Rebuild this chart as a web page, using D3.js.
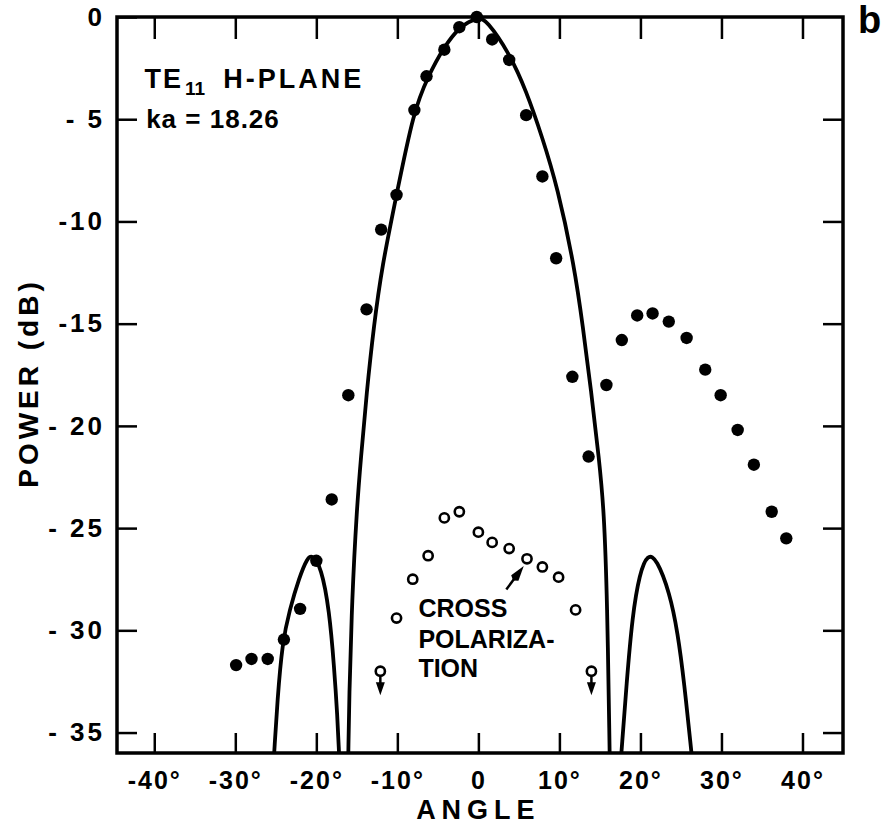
<!DOCTYPE html>
<html>
<head>
<meta charset="utf-8">
<script src="https://cdn.jsdelivr.net/npm/d3@7"></script>
<style>
  body { margin: 0; background: #fff; }
  text { font-family: "Liberation Sans", Arial, sans-serif; font-weight: bold; fill: #000; }
</style>
</head>
<body>
<svg id="chart" width="888" height="829"></svg>
<script>
// tick labels
var angleTicks = [-40, -30, -20, -10, 0, 10, 20, 30, 40];
var angleLabels = ["-40°", "-30°", "-20°", "-10°", "0", "10°", "20°", "30°", "40°"];
var powerTicks = [0, -5, -10, -15, -20, -25, -30, -35];
var powerLabels = ["0", "- 5", "-10", "-15", "- 20", "- 25", "- 30", "- 35"];

// theory (solid curves), [angle, dB]
var mainLobe = [[-16.05, -36], [-15.95, -33.4], [-15.6, -28.5], [-15.0, -24], [-14.5, -21.6],
  [-13.8, -18.4], [-12.9, -15.1], [-11.9, -12.2], [-10.1, -8.7], [-8.0, -4.6], [-6.2, -2.9],
  [-4.3, -1.5], [-2.3, -0.45], [0, 0], [1.0, -0.15], [3.8, -1.75], [5.9, -3.6], [7.9, -5.9],
  [9.75, -8.3], [11.85, -12.2], [12.9, -15.15], [13.95, -18.4], [14.9, -21.65],
  [15.5, -24.1], [15.9, -28.5], [16.2, -36]];
var leftSideLobe = [[-25.2, -36], [-24.8, -33.4], [-24.2, -30.6], [-23.3, -29.0], [-22.1, -27.4],
  [-21.1, -26.45], [-20.5, -26.3], [-19.4, -26.9], [-18.4, -29.0], [-17.8, -31.8],
  [-17.4, -34.2], [-17.2, -36]];
var rightSideLobe = [[17.65, -36], [18.3, -32.55], [19.0, -29.3], [19.9, -27.2], [20.9, -26.25],
  [22.0, -26.5], [23.6, -28.15], [24.6, -30.1], [25.4, -32.55], [26.3, -36]];

// measured co-polar (filled dots)
var coAngle = [-29.9, -28.0, -26.0, -24.0, -22.0, -20.0, -18.1, -16.05, -13.8, -12.0, -10.1,
  -7.9, -6.4, -4.2, -2.35, -0.2, 1.7, 3.8, 5.9, 7.9, 9.6, 11.6, 13.6, 15.8, 17.7, 19.6, 21.5,
  23.5, 25.7, 28.0, 29.9, 32.0, 34.0, 36.2, 38.0];
var coPower = [-31.7, -31.4, -31.4, -30.45, -28.95, -26.6, -23.6, -18.5, -14.3, -10.4, -8.7,
  -4.55, -2.9, -1.6, -0.5, 0, -1.1, -2.1, -4.8, -7.8, -11.8, -17.6, -21.5, -18.0, -15.8, -14.6,
  -14.5, -14.9, -15.7, -17.25, -18.5, -20.2, -21.9, -24.2, -25.5];

// measured cross-polar (open circles)
var xAngle = [-10.1, -8.1, -6.2, -4.2, -2.35, 0, 1.7, 3.8, 6.0, 7.9, 9.9, 12.0];
var xPower = [-29.4, -27.5, -26.35, -24.5, -24.2, -25.2, -25.7, -26.0, -26.5, -26.9, -27.4, -29.0];
// cross-polar upper bounds (circle with down arrow)
var xBoundAngle = [-12.1, 13.95];
var xBoundPower = [-32.0, -32.0];

var svg = d3.select("#chart");
var plotL = 117, plotR = 843, plotT = 17, plotB = 753;

var x = d3.scaleLinear().domain([-44.6, 45]).range([plotL, plotR]);
var y = d3.scaleLinear().domain([-36, 0]).range([plotB, plotT]);

svg.append("rect").attr("width", 888).attr("height", 829).attr("fill", "#fff");

// axes (ticks inside the frame)
var gB = svg.append("g").attr("transform", "translate(0," + plotB + ")")
  .call(d3.axisBottom(x).tickValues(angleTicks).tickSize(-20).tickPadding(13)
    .tickFormat(function(d, i) { return angleLabels[i]; }));
var gT = svg.append("g").attr("transform", "translate(0," + plotT + ")")
  .call(d3.axisTop(x).tickValues(angleTicks).tickSize(-22).tickFormat(""));
var gL = svg.append("g").attr("transform", "translate(" + plotL + ",0)")
  .call(d3.axisLeft(y).tickValues(powerTicks).tickSize(-20).tickPadding(10)
    .tickFormat(function(d, i) { return powerLabels[i]; }));
var gR = svg.append("g").attr("transform", "translate(" + plotR + ",0)")
  .call(d3.axisRight(y).tickValues(powerTicks.slice(1)).tickSize(-20).tickFormat(""));

[gB, gT, gL, gR].forEach(function(g) {
  g.select(".domain").remove();
  g.selectAll(".tick line").attr("stroke", "#000").attr("stroke-width", 2.5);
  g.selectAll(".tick text").attr("font-family", "Liberation Sans, Arial, sans-serif")
    .attr("font-weight", "bold").attr("fill", "#000");
});
gB.selectAll(".tick text").attr("font-size", 25).attr("letter-spacing", 2).attr("dy", "0.9em");
gL.selectAll(".tick text").attr("font-size", 26).attr("letter-spacing", 3).attr("dx", "-2");

// frame
svg.append("rect")
  .attr("x", plotL).attr("y", plotT)
  .attr("width", plotR - plotL).attr("height", plotB - plotT)
  .attr("fill", "none").attr("stroke", "#000").attr("stroke-width", 3.5);

// theory curves
var line = d3.line()
  .x(function(d) { return x(d[0]); })
  .y(function(d) { return y(d[1]); })
  .curve(d3.curveBasis);

[mainLobe, leftSideLobe, rightSideLobe].forEach(function(c) {
  svg.append("path").datum(c).attr("d", line)
    .attr("fill", "none").attr("stroke", "#000").attr("stroke-width", 3.8)
    .attr("stroke-linejoin", "round");
});

// co-polar dots
svg.append("g").selectAll("circle")
  .data(coAngle)
  .enter().append("circle")
  .attr("cx", function(d) { return x(d); })
  .attr("cy", function(d, i) { return y(coPower[i]); })
  .attr("r", 6.2)
  .attr("fill", "#000");

// cross-polar circles
svg.append("g").selectAll("circle")
  .data(xAngle)
  .enter().append("circle")
  .attr("cx", function(d) { return x(d); })
  .attr("cy", function(d, i) { return y(xPower[i]); })
  .attr("r", 4.6)
  .attr("fill", "#fff").attr("stroke", "#000").attr("stroke-width", 2.6);

// upper-bound circles with down arrows
xBoundAngle.forEach(function(a, i) {
  var cx = x(a), cy = y(xBoundPower[i]);
  svg.append("line")
    .attr("x1", cx).attr("y1", cy + 4).attr("x2", cx).attr("y2", cy + 12)
    .attr("stroke", "#000").attr("stroke-width", 2.5);
  svg.append("path")
    .attr("d", "M" + (cx - 4.5) + "," + (cy + 11) + "L" + (cx + 4.5) + "," + (cy + 11) +
      "L" + cx + "," + (cy + 24) + "Z")
    .attr("fill", "#000");
  svg.append("circle").attr("cx", cx).attr("cy", cy).attr("r", 4.6)
    .attr("fill", "#fff").attr("stroke", "#000").attr("stroke-width", 2.6);
});

// arrow to the cross-polarization points
var tail = [x(3.45), y(-28.0)], head = [x(5.6), y(-26.85)];
var adx = head[0] - tail[0], ady = head[1] - tail[1];
var alen = Math.sqrt(adx * adx + ady * ady), ux = adx / alen, uy = ady / alen;
var bx = head[0] - ux * 15, by = head[1] - uy * 15;
svg.append("line")
  .attr("x1", tail[0]).attr("y1", tail[1]).attr("x2", bx).attr("y2", by)
  .attr("stroke", "#000").attr("stroke-width", 2.5);
svg.append("path")
  .attr("d", "M" + head[0] + "," + head[1] +
    "L" + (bx - uy * 4.5) + "," + (by + ux * 4.5) +
    "L" + (bx - ux * 3) + "," + (by - uy * 3) +
    "L" + (bx + uy * 4.5) + "," + (by - ux * 4.5) + "Z")
  .attr("fill", "#000");

// annotations
var te = svg.append("text").attr("x", x(-41.2)).attr("y", y(-3.45)).attr("font-size", 27);
te.append("tspan").attr("letter-spacing", 2).text("TE");
te.append("tspan").attr("font-size", 19).attr("dy", 7).attr("dx", 2).text("11");
te.append("tspan").attr("dy", -7).attr("dx", 18).attr("letter-spacing", 3).text("H-PLANE");

svg.append("text").attr("x", x(-41.0)).attr("y", y(-5.45)).attr("font-size", 26)
  .attr("letter-spacing", 1).text("ka = 18.26");

var cp = [["CROSS", -29.35], ["POLARIZA-", -30.87], ["TION", -32.3]];
cp.forEach(function(d) {
  svg.append("text").attr("x", x(-7.4)).attr("y", y(d[1])).attr("font-size", 25)
    .text(d[0]);
});

// axis titles
svg.append("text").attr("x", x(0)).attr("y", 819).attr("text-anchor", "middle")
  .attr("font-size", 27).attr("letter-spacing", 6).text("ANGLE");
svg.append("text").attr("transform", "translate(38,383) rotate(-90)")
  .attr("text-anchor", "middle").attr("font-size", 28).attr("letter-spacing", 4)
  .text("POWER (dB)");

// panel letter
svg.append("text").attr("x", 858).attr("y", 33).attr("font-size", 38).text("b");
</script>
</body>
</html>
